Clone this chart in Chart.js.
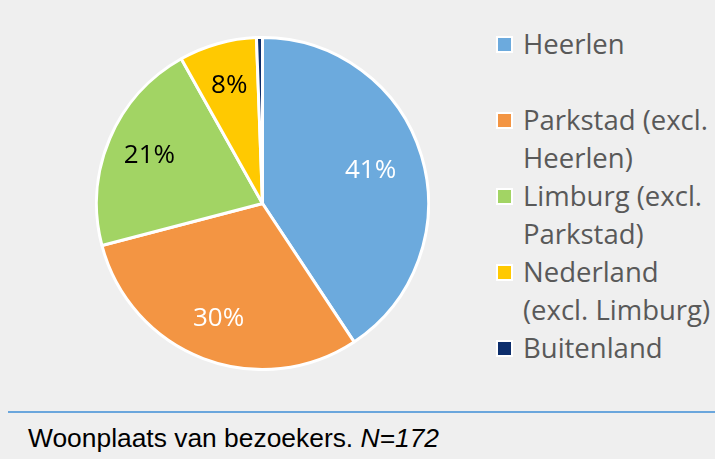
<!DOCTYPE html>
<html>
<head>
<meta charset="utf-8">
<script src="https://cdn.jsdelivr.net/npm/chart.js@4"></script>
<style>
  html, body { margin: 0; padding: 0; }
  body { width: 715px; height: 459px; background: #efefef; position: relative; overflow: hidden; }
  #pieBox { position: absolute; left: 95px; top: 36px; width: 335px; height: 335px; }
  #legend { position: absolute; left: 496px; top: 25px; font-family: "Open Sans", sans-serif; font-size: 27.5px; color: #595959; line-height: 38px; white-space: nowrap; }
  #legend .item { position: relative; padding-left: 27px; }
  #legend .item.tall { margin-bottom: 38px; }
  #legend .box { position: absolute; left: 0; top: 11px; width: 13px; height: 13px; border: 2px solid #fff; box-sizing: content-box; }
  #rule { position: absolute; left: 8px; right: 0; top: 411px; height: 2px; background: #6aa6dc; }
  #caption { position: absolute; left: 28px; top: 423px; font-family: "Liberation Sans", Arial, sans-serif; font-size: 26.4px; color: #000; white-space: nowrap; }
</style>
</head>
<body>
<div id="pieBox"><canvas id="pie"></canvas></div>
<div id="legend"></div>
<div id="rule"></div>
<div id="caption">Woonplaats van bezoekers. <i>N=172</i></div>
<script>
// woonplaats, aantallen (N=172)
const categories = ['Heerlen', 'Parkstad (excl. Heerlen)', 'Limburg (excl. Parkstad)', 'Nederland (excl. Limburg)', 'Buitenland'];
const legendLines = [['Heerlen'], ['Parkstad (excl.', 'Heerlen)'], ['Limburg (excl.', 'Parkstad)'], ['Nederland', '(excl. Limburg)'], ['Buitenland']];
const counts = [70, 52, 36, 13, 1];
const percentLabels = ['41%', '30%', '21%', '8%', ''];
const colors = ['#6caadd', '#f39543', '#a2d464', '#ffc901', '#0d2e6c'];
const labelColors = ['#ffffff', '#ffffff', '#000000', '#000000', '#000000'];

// percentages in de taartpunten
const sliceLabels = {
  id: 'sliceLabels',
  afterDatasetsDraw(chart) {
    const ctx = chart.ctx;
    const meta = chart.getDatasetMeta(0);
    ctx.save();
    ctx.font = '26px "Open Sans", sans-serif';
    ctx.textAlign = 'center';
    ctx.textBaseline = 'middle';
    meta.data.forEach((arc, i) => {
      if (!percentLabels[i]) return;
      const p = arc.getProps(['x', 'y', 'startAngle', 'endAngle', 'outerRadius']);
      const mid = (p.startAngle + p.endAngle) / 2;
      const r = p.outerRadius * (i === 0 ? 0.68 : 0.74);
      ctx.fillStyle = labelColors[i];
      ctx.fillText(percentLabels[i], p.x + Math.cos(mid) * r, p.y + Math.sin(mid) * r);
    });
    ctx.restore();
  }
};

new Chart(document.getElementById('pie'), {
  type: 'pie',
  data: {
    labels: categories,
    datasets: [{
      data: counts,
      backgroundColor: colors,
      borderColor: '#ffffff',
      borderWidth: 3
    }]
  },
  options: {
    responsive: true,
    maintainAspectRatio: false,
    animation: false,
    layout: { padding: 0 },
    plugins: { legend: { display: false }, tooltip: { enabled: false } }
  },
  plugins: [sliceLabels]
});

const legendEl = document.getElementById('legend');
categories.forEach((c, i) => {
  const item = document.createElement('div');
  item.className = 'item' + (i === 0 ? ' tall' : '');
  const box = document.createElement('span');
  box.className = 'box';
  box.style.background = colors[i];
  item.appendChild(box);
  item.innerHTML += legendLines[i].join('<br>');
  legendEl.appendChild(item);
});
</script>
</body>
</html>
